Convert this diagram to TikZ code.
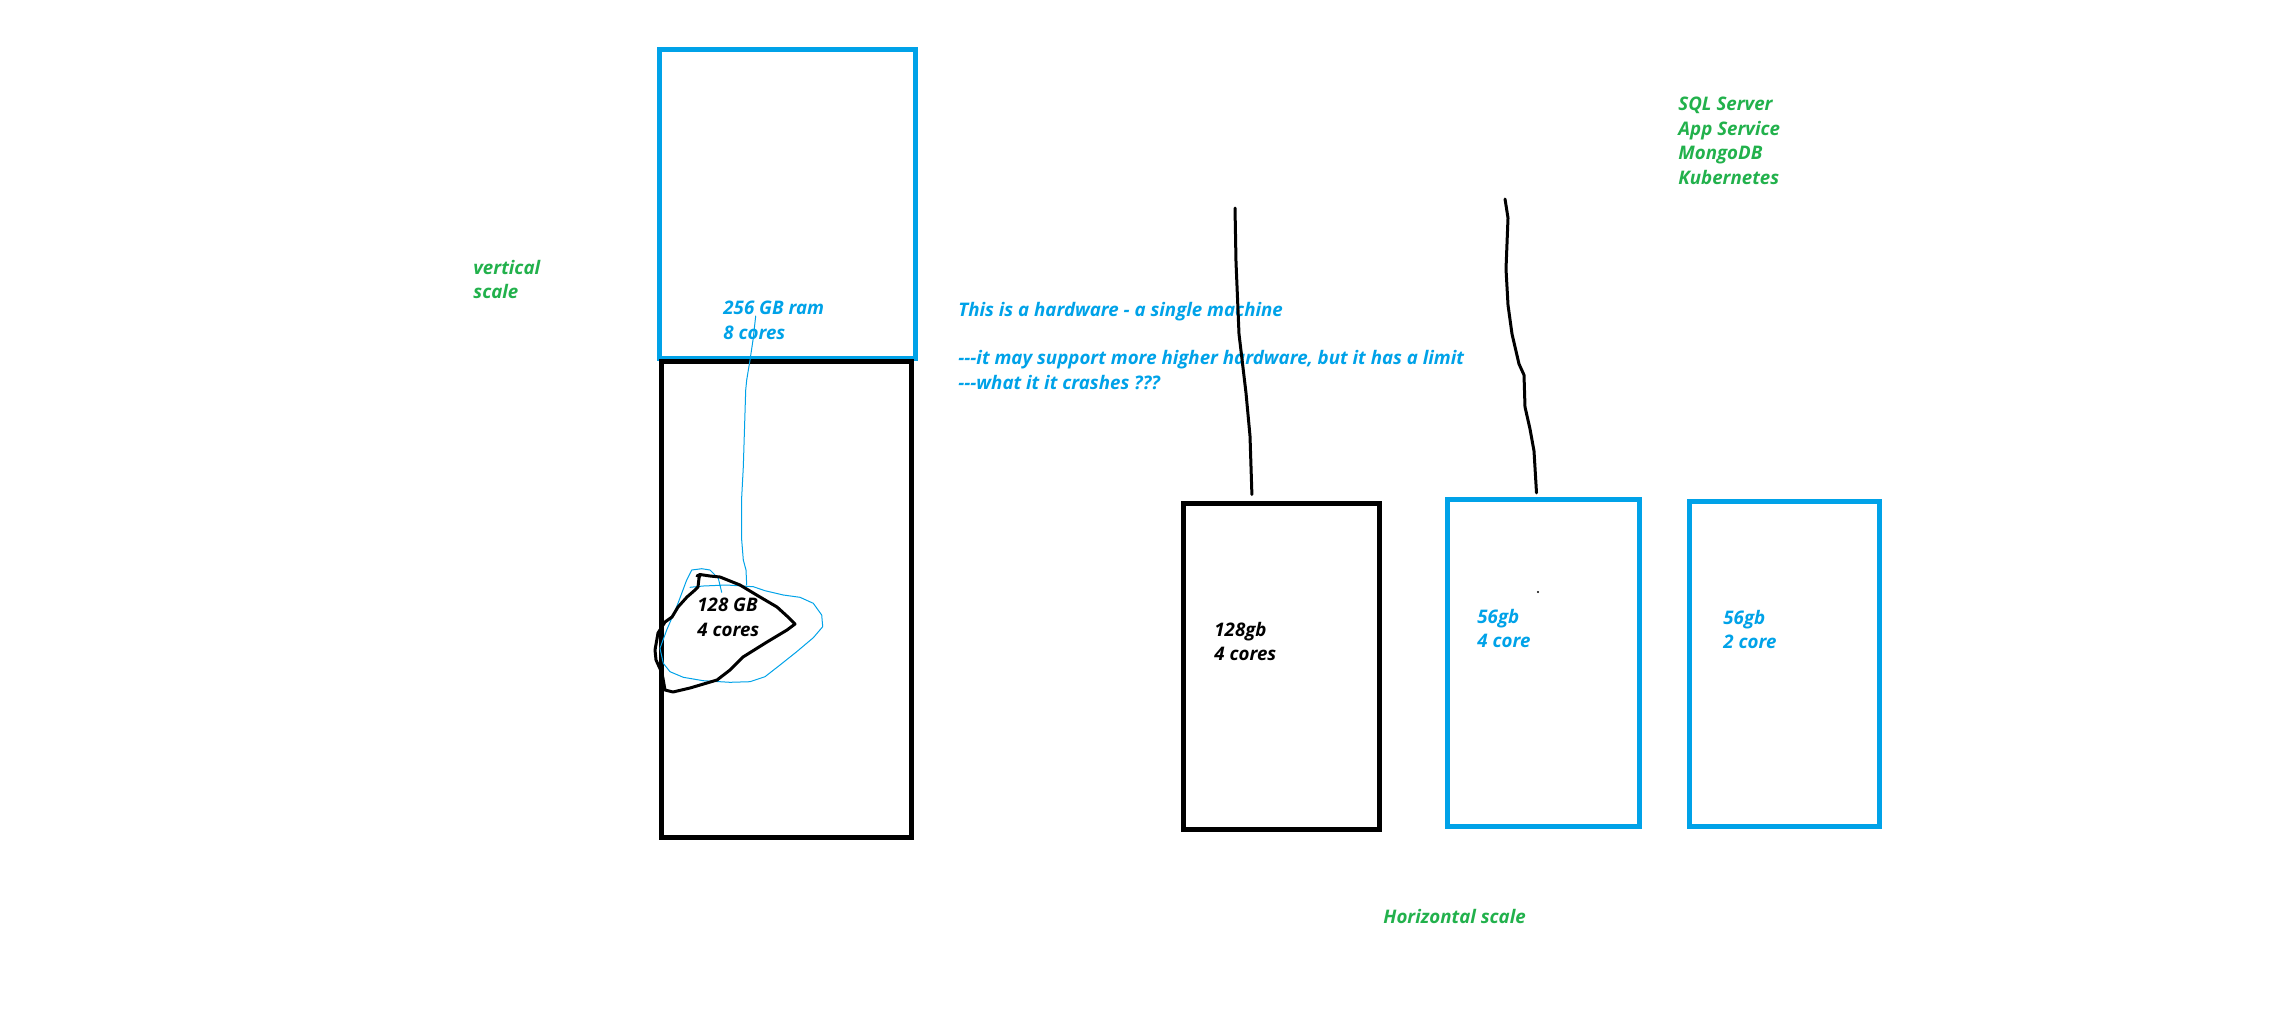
\documentclass[tikz,border=0pt]{standalone}
\usepackage{fontspec}
\setmainfont{Open Sans}
\definecolor{paintblue}{RGB}{0,162,232}
\definecolor{paintgreen}{RGB}{34,177,76}
\begin{document}
\begin{tikzpicture}[
  x=0.5pt,y=-0.5pt,
  box/.style={draw,line width=2.5pt,inner sep=0pt},
  bluebox/.style={box,draw=paintblue},
  blackbox/.style={box,draw=black},
  note/.style={inner sep=0pt,anchor=north west,align=left,yshift=7.2pt,
    execute at begin node=\strut,font=\fontsize{9.35}{12.25}\selectfont\bfseries\itshape},
  pen/.style={line width=1.5pt,line cap=round,line join=round},
  thinpen/.style={paintblue,line width=0.5pt,line cap=round,line join=round}
]
\useasboundingbox (0,0) rectangle (2280,1023);

% --- vertical scale ---
\node[bluebox,minimum width=128pt,minimum height=154.5pt] (big) at (787,203.5) {};
\node[blackbox,minimum width=125pt,minimum height=238pt] (hw) at (786.5,599) {};

\node[note,text=paintgreen] (vlabel) at (473,274) {vertical\\scale};
\node[note,text=paintblue] (ram256) at (723,315) {256 GB ram\\8 cores};
\node[note,text=black] (ram128) at (697,612) {128 GB\\4 cores};
\node[note,text=paintblue] (remark) at (958,316)
  {This is a hardware - a single machine\\[12pt]-{}-{}-it may support more higher hardware, but it has a limit\\-{}-{}-what it it crashes ???};

% scribbles round the 128 GB text
\draw[thinpen] (721.7,592.3) -- (718.3,578.3) -- (710,570) -- (701.7,568.7) -- (691.7,570)
  -- (686.7,580) -- (676.7,606.7) -- (666.7,630) -- (660,648.3) -- (663.3,663.3)
  -- (670,671.7) -- (683.3,677.3) -- (703.3,680.7) -- (730,682.3) -- (750,681.7)
  -- (765,676.7) -- (780,665) -- (796.7,651.7) -- (813.3,637.7) -- (822.7,626.7)
  -- (821.7,615) -- (813.3,603.3) -- (800,597.3) -- (783.3,595) -- (765,590.7)
  -- (753.3,586.7) -- (726.7,585) -- (703.3,586) -- (690,587.3);
\draw[thinpen] (755.7,316) -- (753,340) -- (750,360) -- (746.7,380) -- (745.7,390)
  -- (743.3,467) -- (741.7,497) -- (741.7,540) -- (743.3,560) -- (746,570) -- (746.7,585);
\draw[pen] (697,576) -- (700,574.5) -- (710,576) -- (720,577) -- (740,585) -- (760,597)
  -- (777,607) -- (788,617) -- (795,624) -- (787,630) -- (767,642) -- (743,657)
  -- (730,670) -- (717,680) -- (690,688) -- (673,692) -- (665,690) -- (662,673)
  -- (656,660) -- (655,650) -- (658,633) -- (665,622) -- (672,617) -- (678,607)
  -- (687,597) -- (695,590) -- (698,587) -- (699,578) -- (700,574.5);

% --- horizontal scale ---
\node[blackbox,minimum width=98pt,minimum height=163pt] (hw2) at (1281,666) {};
\node[bluebox,minimum width=96pt,minimum height=163.5pt] (hw3) at (1543,662.5) {};
\node[bluebox,minimum width=95pt,minimum height=162.5pt] (hw4) at (1784,663.5) {};

\node[note,text=black] (ram128b) at (1214,636) {128gb\\4 cores};
\node[note,text=paintblue] (ram56a) at (1477,623) {56gb\\4 core};
\node[note,text=paintblue] (ram56b) at (1723,624) {56gb\\2 core};
\node[note,text=paintgreen] (services) at (1678,111) {SQL Server\\App Service\\MongoDB\\Kubernetes};
\node[note,text=paintgreen] (hlabel) at (1383,920) {Horizontal scale};

% hanging wires
\coordinate (wire2) at (1235,208);
\coordinate (wire3) at (1505,199);
\draw[pen] (wire2) -- (1236,262) -- (1239,334) -- (1246,393) -- (1250,436)
  -- ([xshift=35.7pt,yshift=3pt]hw2.north west);
\draw[pen] (wire3) -- (1508,218) -- (1506,269) -- (1508,305) -- (1512,334) -- (1519,364)
  -- (1524,375) -- (1525,407) -- (1530,429) -- (1534,451)
  -- ([xshift=46pt,yshift=1.8pt]hw3.north west);
\fill (1538,592) circle (0.6pt);

\end{tikzpicture}
\end{document}
